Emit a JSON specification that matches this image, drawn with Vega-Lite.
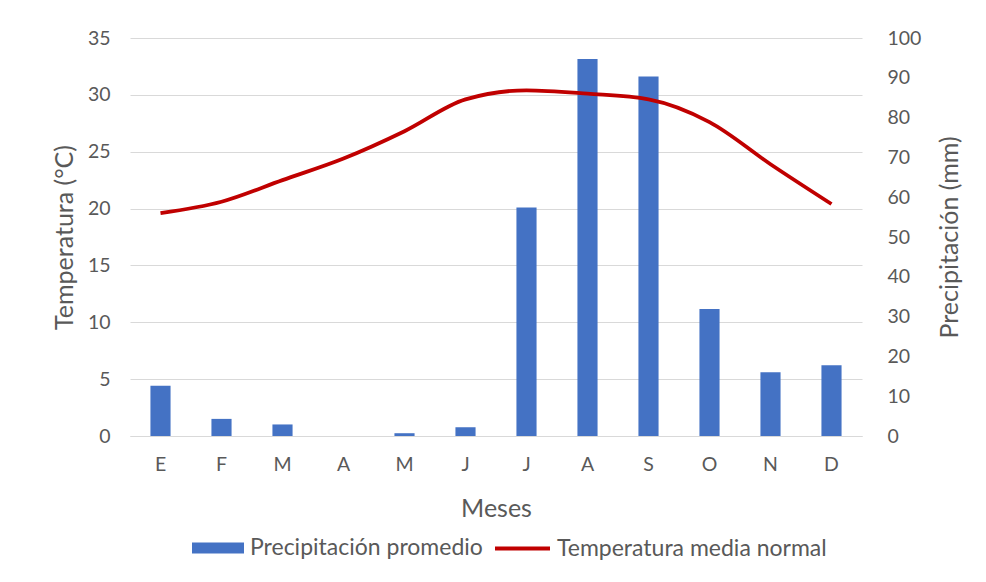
{
  "$schema": "https://vega.github.io/schema/vega-lite/v6.json",
  "width": 732,
  "height": 398,
  "autosize": "none",
  "padding": {"left": 130, "top": 38, "right": 124, "bottom": 146},
  "background": "white",
  "config": {
    "view": {"stroke": null},
    "font": "Lato",
    "axis": {"labelColor": "#595959", "titleColor": "#595959", "labelFontSize": 19.5, "titleFontSize": 25, "titleFontWeight": "normal", "ticks": false, "domain": false, "labelFont": "Lato", "titleFont": "Lato"},
    "legend": {"labelColor": "#595959", "labelFontSize": 23, "labelFont": "Lato", "labelLimit": 0, "padding": 0}
  },
  "data": {
    "values": [
      {"idx": 1, "temp": 19.6, "precip": 12.6},
      {"idx": 2, "temp": 20.6, "precip": 4.3},
      {"idx": 3, "temp": 22.5, "precip": 2.9},
      {"idx": 4, "temp": 24.4, "precip": 0},
      {"idx": 5, "temp": 26.8, "precip": 0.7},
      {"idx": 6, "temp": 29.6, "precip": 2.2},
      {"idx": 7, "temp": 30.4, "precip": 57.4},
      {"idx": 8, "temp": 30.1, "precip": 94.7},
      {"idx": 9, "temp": 29.6, "precip": 90.3},
      {"idx": 10, "temp": 27.6, "precip": 31.9},
      {"idx": 11, "temp": 23.9, "precip": 16.0},
      {"idx": 12, "temp": 20.4, "precip": 17.8}
    ]
  },
  "encoding": {
    "x": {
      "field": "idx",
      "type": "ordinal",
      "scale": {"paddingInner": 0.67, "paddingOuter": 0.335},
      "axis": {
        "title": "Meses",
        "labelAngle": 0,
        "labelPadding": 19,
        "titlePadding": 23,
        "domain": true,
        "domainColor": "#d9d9d9",
        "domainWidth": 1,
        "labelExpr": "['E','F','M','A','M','J','J','A','S','O','N','D'][datum.value-1]"
      }
    }
  },
  "layer": [
    {
      "mark": {"type": "bar", "color": "#4472C4"},
      "encoding": {
        "y": {
          "field": "precip",
          "type": "quantitative",
          "scale": {"domain": [0, 100]},
          "axis": {"orient": "right", "title": "Precipitación (mm)", "values": [0,10,20,30,40,50,60,70,80,90,100], "grid": false, "labelPadding": 25, "titlePadding": 42, "titleAngle": 270}
        },
        "color": {
          "datum": "Precipitación promedio",
          "type": "nominal",
          "scale": {"range": ["#4472C4"]},
          "legend": {"orient": "none", "legendX": 62, "legendY": 484, "title": null, "symbolType": "M-1,-0.21H1V0.21H-1Z", "symbolSize": 2704, "symbolStrokeWidth": 0, "symbolOpacity": 1, "labelOffset": 6}
        }
      }
    },
    {
      "mark": {"type": "line", "color": "#C00000", "strokeWidth": 3.8, "interpolate": "monotone"},
      "encoding": {
        "y": {
          "field": "temp",
          "type": "quantitative",
          "scale": {"domain": [0, 35]},
          "axis": {"orient": "left", "title": "Temperatura (°C)", "values": [0,5,10,15,20,25,30,35], "grid": true, "gridColor": "#d9d9d9", "gridWidth": 1.2, "labelPadding": 20, "titlePadding": 10}
        },
        "stroke": {
          "datum": "Temperatura media normal",
          "type": "nominal",
          "scale": {"range": ["#C00000"]},
          "legend": {"orient": "none", "legendX": 363, "legendY": 481, "title": null, "symbolType": "stroke", "symbolSize": 3025, "symbolStrokeWidth": 4, "labelOffset": 5}
        }
      }
    }
  ],
  "resolve": {"scale": {"y": "independent", "color": "independent", "stroke": "independent"}}
}
